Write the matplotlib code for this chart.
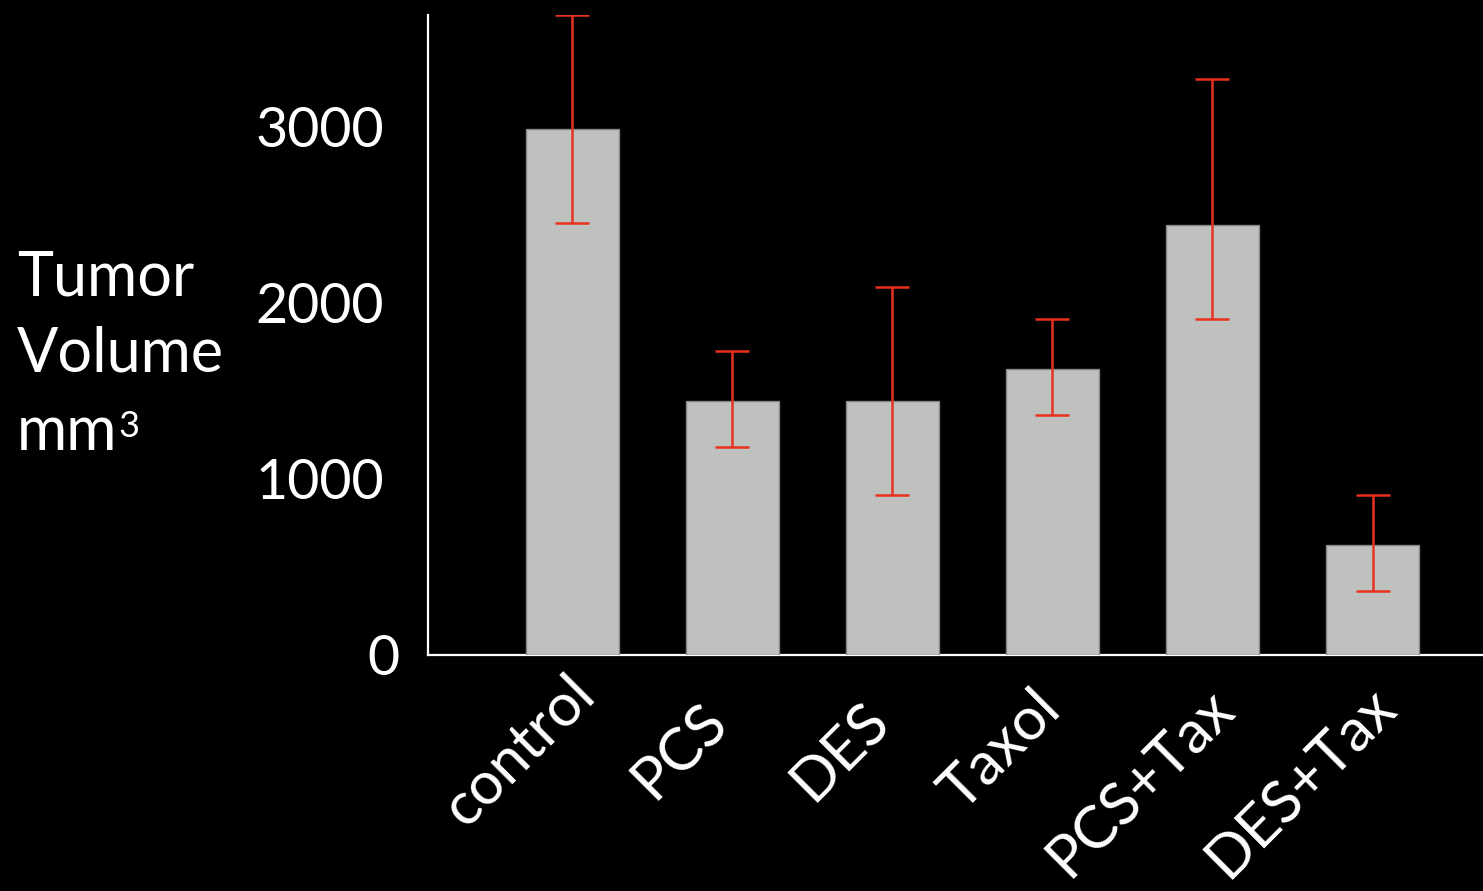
import matplotlib
matplotlib.use("Agg")
import matplotlib.pyplot as plt
import matplotlib.transforms as mtransforms
import numpy as np

# Tumor volume by treatment group
groups = ["control", "PCS", "DES", "Taxol", "PCS+Tax", "DES+Tax"]
volume = [2990, 1443, 1443, 1625, 2443, 625]
err_low = [2455, 1182, 909, 1364, 1909, 364]
err_high = [3636, 1727, 2091, 1909, 3273, 909]
yticks = [0, 1000, 2000, 3000]
ylabel_lines = ["Tumor", "Volume", "mm"]

plt.rcParams["font.family"] = ["Lato", "DejaVu Sans"]

fig = plt.figure(figsize=(14.83, 8.91), dpi=100, facecolor="black")
ax = fig.add_axes([0.2886, 0.2649, 0.7114, 0.7183], facecolor="black")

x = np.arange(len(groups))
vol = np.array(volume)
lower = vol - np.array(err_low)
upper = np.array(err_high) - vol

ax.bar(x, vol, width=0.58, color="#bfc1bf", edgecolor="#868886",
       linewidth=1.0, zorder=3)
ax.errorbar(x, vol, yerr=[lower, upper], fmt="none", ecolor="#e8321e",
            elinewidth=1.8, capsize=12, capthick=1.8, zorder=4)

ax.set_xlim(-0.9, 5.69)
ax.set_ylim(0, 3636)

for s in ["top", "right"]:
    ax.spines[s].set_visible(False)
for s in ["left", "bottom"]:
    ax.spines[s].set_color("white")
    ax.spines[s].set_linewidth(1.6)
    ax.spines[s].set_zorder(2)

# y axis: tiny dark notches on the spine at every 500
ax.set_yticks(yticks)
ax.set_yticks([500, 1500, 2500, 3500], minor=True)
ax.tick_params(axis="y", which="both", direction="inout", length=5,
               width=1.6, color="black", pad=29, labelsize=40,
               labelcolor="white")
ax.set_yticklabels([str(v) for v in yticks])
zero_label = ax.get_yticklabels()[0]
zero_label.set_transform(zero_label.get_transform() +
                         mtransforms.ScaledTranslation(0.15, 0, fig.dpi_scale_trans))

# x axis: category names, rotated and centred below each bar;
# the two long combination names sit a little further down-left
ax.set_xticks(x)
ax.set_xticklabels([])
ax.tick_params(axis="x", length=0)
for xi, name in zip(x, groups):
    dx, dy = (-60, -140) if "+" in name else (-40, -108)
    tf = mtransforms.offset_copy(ax.get_xaxis_transform(), fig=fig,
                                 x=dx, y=dy, units="dots")
    ax.text(xi, 0, name, transform=tf, rotation=45,
            rotation_mode="anchor", ha="center", va="baseline",
            fontsize=43, color="white")

# y axis title, one line per row, with a raised 3 for the cubic unit
title_texts = []
for line, base in zip(ylabel_lines, [295, 372, 450]):
    title_texts.append(fig.text(17 / 1483, 1 - base / 891, line,
                                color="white", fontsize=44,
                                ha="left", va="baseline"))
ax.annotate("3", xy=(1.0, 1 - 437 / 891),
            xycoords=(title_texts[-1], "figure fraction"),
            xytext=(1, 0), textcoords="offset points",
            ha="left", va="baseline", fontsize=26, color="white",
            annotation_clip=False)

fig.savefig("out.png", dpi=100, facecolor="black")
